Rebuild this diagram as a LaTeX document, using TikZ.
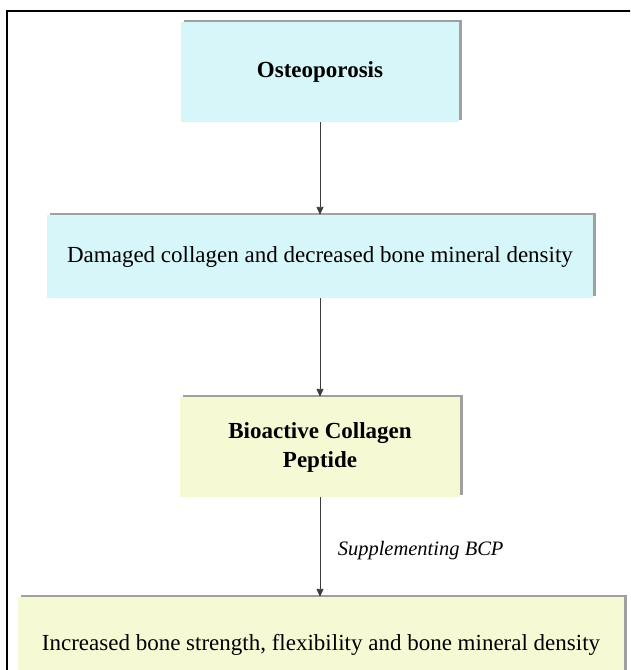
\documentclass[tikz,border=0pt]{standalone}
\usepackage{fontspec}
\setmainfont{Liberation Serif}
\usetikzlibrary{shadows,arrows.meta}
\definecolor{boxcyan}{RGB}{214,246,250}
\definecolor{boxyellow}{RGB}{246,250,212}
\definecolor{shadowgray}{RGB}{160,160,160}
\definecolor{arrowgray}{RGB}{60,60,60}
\tikzset{
  flowbox/.style={rectangle, draw=none, inner sep=0pt, align=center,
    general shadow={fill=shadowgray, shadow xshift=2.5pt, shadow yshift=2.5pt},
    font=\fontsize{23}{29}\selectfont},
  cyanbox/.style={flowbox, fill=boxcyan},
  yellowbox/.style={flowbox, fill=boxyellow},
  boldtext/.style={font=\fontsize{23}{29}\selectfont\bfseries},
  flowarrow/.style={draw=arrowgray, line width=0.9pt, -{Triangle[length=8pt,width=7pt]}},
  steplabel/.style={font=\fontsize{20.5}{24}\selectfont\itshape, anchor=west}
}
\begin{document}
\begin{tikzpicture}[x=1pt,y=-1pt]
\useasboundingbox (0,0) rectangle (630,670);
\clip (0,0) rectangle (630,670);
\fill[white] (0,0) rectangle (630,670);
\draw[line width=1.3pt] (7,672) -- (7,11) -- (632,11);
\node[cyanbox, boldtext, minimum width=278pt, minimum height=100pt] (ost) at (320,72) {Osteoporosis};
\node[cyanbox, minimum width=546pt, minimum height=83pt] (dam) at (320,256.5) {Damaged collagen and decreased bone mineral density};
\node[yellowbox, boldtext, minimum width=280pt, minimum height=100pt] (bio) at (320,447) {Bioactive Collagen\\Peptide};
\node[yellowbox, minimum width=606pt, minimum height=96pt] (inc) at (321,645) {Increased bone strength, flexibility and bone mineral density};
\draw[flowarrow] (ost.south) -- (dam.north);
\draw[flowarrow] (dam.south) -- (bio.north);
\draw[flowarrow] (bio.south) -- node[steplabel, xshift=14pt, yshift=-4pt] (lab) {Supplementing BCP} (bio.south |- inc.north);
\end{tikzpicture}
\end{document}
